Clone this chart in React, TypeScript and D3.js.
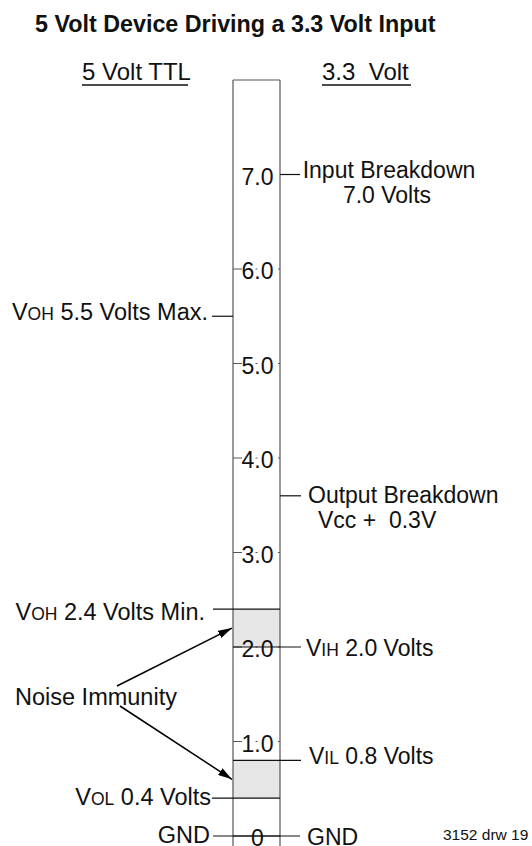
import React from "react";
import { scaleLinear } from "d3";

// volt scale of the centre column
const voltTicks = [7, 6, 5, 4, 3, 2, 1, 0];
const voltTickLabels = ["7.0", "6.0", "5.0", "4.0", "3.0", "2.0", "1.0", "0"];
const noiseBands = [
	[2.0, 2.4],
	[0.4, 0.8]
];

// 5 Volt TTL side (left)
const ttlValues = [5.5, 2.4, 0.4, 0];
const ttlSymbols = ["V", "V", "V", ""];
const ttlSubs = ["OH", "OH", "OL", ""];
const ttlTexts = [" 5.5 Volts Max.", " 2.4 Volts Min.", " 0.4 Volts", "GND"];

// 3.3 Volt side (right)
const lvValues = [7.0, 3.6, 2.0, 0.8, 0];
const lvSymbols = ["", "", "V", "V", ""];
const lvSubs = ["", "", "IH", "IL", ""];
const lvTexts = ["Input Breakdown", "Output Breakdown", " 2.0 Volts", " 0.8 Volts", "GND"];
const lvSecondLines = ["7.0 Volts", "Vcc +  0.3V", "", "", ""];

const FONT = "'Liberation Sans', Arial, Helvetica, sans-serif";
const FS = 23;
const LEFT_FS = 23.5;
const SUB = 17.5;

// layout tweaks per label (pixel offsets only)
const ttlLayout = [
	{ textEnd: 208, lineStart: 212, across: false, dy: 4 },
	{ textEnd: 205, lineStart: 213, across: true, dy: 11 },
	{ textEnd: 211, lineStart: 212, across: true, dy: 7 },
	{ textEnd: 210, lineStart: 213, across: true, dy: 7 }
];
const lvLayout = [
	{ x: 389, anchor: "middle", x2: 387, across: false, dy: 3, lineEnd: 300 },
	{ x: 308, anchor: "start", x2: 318, across: false, dy: 7, lineEnd: 301 },
	{ x: 306, anchor: "start", x2: 0, across: true, dy: 9, lineEnd: 301 },
	{ x: 309, anchor: "start", x2: 0, across: true, dy: 4, lineEnd: 301 },
	{ x: 307, anchor: "start", x2: 0, across: true, dy: 9, lineEnd: 300 }
];

export default function App() {
	const width = 532;
	const height = 846;
	const boxLeft = 233;
	const boxRight = 280;
	const boxMid = (boxLeft + boxRight) / 2;

	const y = scaleLinear().domain([0, 8]).range([836, 80]);
	const stroke = "#555";

	const arrowStarts = [
		[117, 686],
		[120, 706]
	];

	return (
		<svg
			width={width}
			height={height}
			style={{ position: "absolute", left: 0, top: 0, background: "#fff" }}
			fontFamily={FONT}
		>
			<defs>
				<marker
					id="arrow"
					viewBox="0 0 14 8"
					refX="14"
					refY="4"
					markerWidth="14"
					markerHeight="8"
					markerUnits="userSpaceOnUse"
					orient="auto"
				>
					<path d="M0,0 L14,4 L0,8 Z" fill="#000" />
				</marker>
			</defs>

			{/* title + column headers */}
			<text x={35} y={32} fontSize={23.3} fontWeight="bold" fill="#111">
				5 Volt Device Driving a 3.3 Volt Input
			</text>
			<text x={82} y={80} fontSize={24} fill="#111">
				5 Volt TTL
			</text>
			<line x1={82} x2={188} y1={85} y2={85} stroke="#111" strokeWidth={1.5} />
			<text x={322} y={80} fontSize={24} fill="#111" style={{ whiteSpace: "pre" }}>
				{"3.3  Volt"}
			</text>
			<line x1={322} x2={411} y1={85} y2={85} stroke="#111" strokeWidth={1.5} />

			{/* noise bands */}
			{noiseBands.map(([lo, hi], i) => (
				<rect
					key={"band" + i}
					x={boxLeft}
					y={y(hi)}
					width={boxRight - boxLeft}
					height={y(lo) - y(hi)}
					fill="#e6e6e6"
				/>
			))}

			{/* the column */}
			<line x1={boxLeft} x2={boxRight} y1={y(8)} y2={y(8)} stroke={stroke} strokeWidth={1.2} />
			<line x1={boxLeft} x2={boxLeft} y1={y(8)} y2={y(-0.3)} stroke={stroke} strokeWidth={1.2} />
			<line x1={boxRight} x2={boxRight} y1={y(8)} y2={y(-0.3)} stroke={stroke} strokeWidth={1.2} />

			{/* ticks */}
			{voltTicks.map((v, i) => (
				<g key={"t" + v}>
					{v > 0 && v < 7 && (
						<>
							<line x1={boxLeft} x2={boxLeft + 9} y1={y(v)} y2={y(v)} stroke={stroke} />
							<line x1={boxMid - 1} x2={boxMid + 1} y1={y(v)} y2={y(v)} stroke={stroke} />
							<line x1={boxRight - 2} x2={boxRight} y1={y(v)} y2={y(v)} stroke={stroke} />
						</>
					)}
					<text
						x={boxMid + 1}
						y={y(v) + 10}
						fontSize={FS}
						textAnchor="middle"
						fill="#111"
					>
						{voltTickLabels[i]}
					</text>
				</g>
			))}

			{/* left labels */}
			{ttlValues.map((v, i) => {
				const l = ttlLayout[i];
				return (
					<g key={"l" + i}>
						<line
							x1={l.lineStart}
							x2={l.across ? boxRight : boxLeft}
							y1={y(v)}
							y2={y(v)}
							stroke="#111"
							strokeWidth={1.2}
						/>
						<text x={l.textEnd} y={y(v) + l.dy} fontSize={LEFT_FS} textAnchor="end" fill="#111" style={{ whiteSpace: "pre" }}>
							{ttlSymbols[i]}
							{ttlSubs[i] && <tspan fontSize={SUB}>{ttlSubs[i]}</tspan>}
							{ttlTexts[i]}
						</text>
					</g>
				);
			})}

			{/* right labels */}
			{lvValues.map((v, i) => {
				const l = lvLayout[i];
				return (
					<g key={"r" + i}>
						<line
							x1={l.across ? boxLeft : boxRight}
							x2={l.lineEnd}
							y1={y(v)}
							y2={y(v)}
							stroke="#111"
							strokeWidth={1.2}
						/>
						<text x={l.x} y={y(v) + l.dy} fontSize={FS} textAnchor={l.anchor} fill="#111" style={{ whiteSpace: "pre" }}>
							{lvSymbols[i]}
							{lvSubs[i] && <tspan fontSize={SUB}>{lvSubs[i]}</tspan>}
							{lvTexts[i]}
						</text>
						{lvSecondLines[i] && (
							<text x={l.x2} y={y(v) + l.dy + 25} fontSize={FS} textAnchor={l.anchor} fill="#111" style={{ whiteSpace: "pre" }}>
								{lvSecondLines[i]}
							</text>
						)}
					</g>
				);
			})}

			{/* noise immunity */}
			<text x={15} y={705} fontSize={23.5} fill="#111">
				Noise Immunity
			</text>
			{noiseBands.map(([lo, hi], i) => (
				<line
					key={"arr" + i}
					x1={arrowStarts[i][0]}
					y1={arrowStarts[i][1]}
					x2={boxLeft - 1}
					y2={y((lo + hi) / 2)}
					stroke="#000"
					strokeWidth={1.5}
					markerEnd="url(#arrow)"
				/>
			))}

			<text x={443} y={840} fontSize={15.5} fill="#111">
				3152 drw 19
			</text>
		</svg>
	);
}
